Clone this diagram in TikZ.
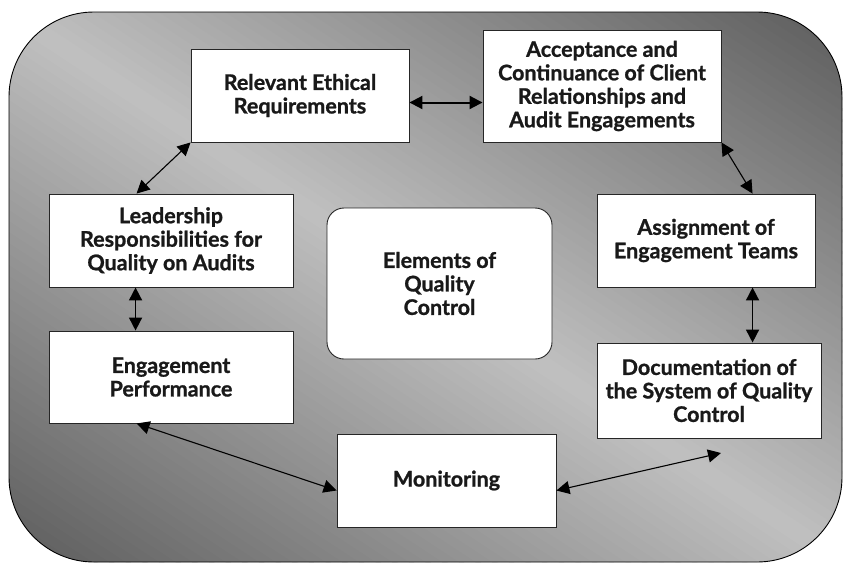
\documentclass[tikz,border=0pt]{standalone}
\usepackage{fontspec}
\setmainfont{Lato}[BoldFeatures={FakeBold=1}]
\usetikzlibrary{arrows.meta}
\begin{document}
\begin{tikzpicture}[x=1pt, y=-1pt,
  every node/.style={font=\bfseries\fontsize{21.5pt}{23.5pt}\selectfont, text=black!90},
  box/.style={draw=black!85, line width=0.9pt, fill=white, inner sep=0pt, align=center},
  core/.style={box, rounded corners=17pt},
  link/.style={{Triangle[length=13pt,width=13pt]}-{Triangle[length=13pt,width=13pt]}, line width=1.1pt, black},
  thicklink/.style={link, line width=1.6pt},
  heavylink/.style={link, line width=2pt}]
\useasboundingbox (0,0) rectangle (844,563);

% backdrop: reflected grey gradient, lightest along the main diagonal
\begin{scope}
  \clip[rounded corners=85pt] (9,12) rectangle (842,562);
  \foreach \i in {0,...,99} {
    \pgfmathsetmacro\ta{-1+\i/50}
    \pgfmathsetmacro\tb{-1+(\i+1.3)/50}
    \pgfmathsetmacro\tm{abs(-1+(\i+0.5)/50)}
    \pgfmathsetmacro\lev{(192-100*\tm)/255*100}
    \fill[white!\lev!black]
      ({9+833*(\ta-1)},-538) -- ({9+833*(\ta+2)},1112) --
      ({9+833*(\tb+2)},1112) -- ({9+833*(\tb-1)},-538) -- cycle;
  }
\end{scope}
\draw[rounded corners=85pt, line width=0.9pt] (9,12) rectangle (842,562);

% elements
\node[box, minimum width=218pt, minimum height=93pt] (eth) at (300,95.5)
  {Relevant Ethical\\Requirements};
\node[box, minimum width=238pt, minimum height=112pt] (acc) at (602,86)
  {Acceptance and\\Continuance of Client\\Relationships and\\Audit Engagements};
\node[box, minimum width=244pt, minimum height=93pt] (lead) at (171,240.5)
  {Leadership\\Responsibilities for\\Quality on Audits};
\node[box, minimum width=244pt, minimum height=92pt] (perf) at (171,377)
  {Engagement\\Performance};
\node[core, minimum width=225pt, minimum height=151pt] (elem) at (439.5,283.5)
  {Elements of\\Quality\\Control};
\node[box, minimum width=218pt, minimum height=93pt] (assign) at (706,240.5)
  {Assignment of\\Engagement Teams};
\node[box, minimum width=224pt, minimum height=95pt] (doc) at (709,390.5)
  {Documentation of\\the System of Quality\\Control};
\node[box, minimum width=219pt, minimum height=93pt] (mon) at (446.5,480.5)
  {Monitoring};
\coordinate (docend) at (721,453);

% links
\draw[heavylink] ([yshift=-7pt]eth.east) -- ([yshift=-7pt]eth.east -| acc.west);
\draw[link] ([xshift=88pt]lead.north west) -- (eth.south west);
\draw[link] (acc.south east) -- ([xshift=156pt]assign.north west);
\draw[thicklink] ([xshift=87pt]lead.south west) -- ([xshift=87pt]perf.north west);
\draw[thicklink] ([xshift=156pt]assign.south west) -- ([xshift=156pt]doc.north west);
\draw[link] ([xshift=88pt]perf.south west) -- ([yshift=-10pt]mon.west);
\draw[link] ([yshift=-10pt]mon.east) -- (docend);
\end{tikzpicture}
\end{document}
